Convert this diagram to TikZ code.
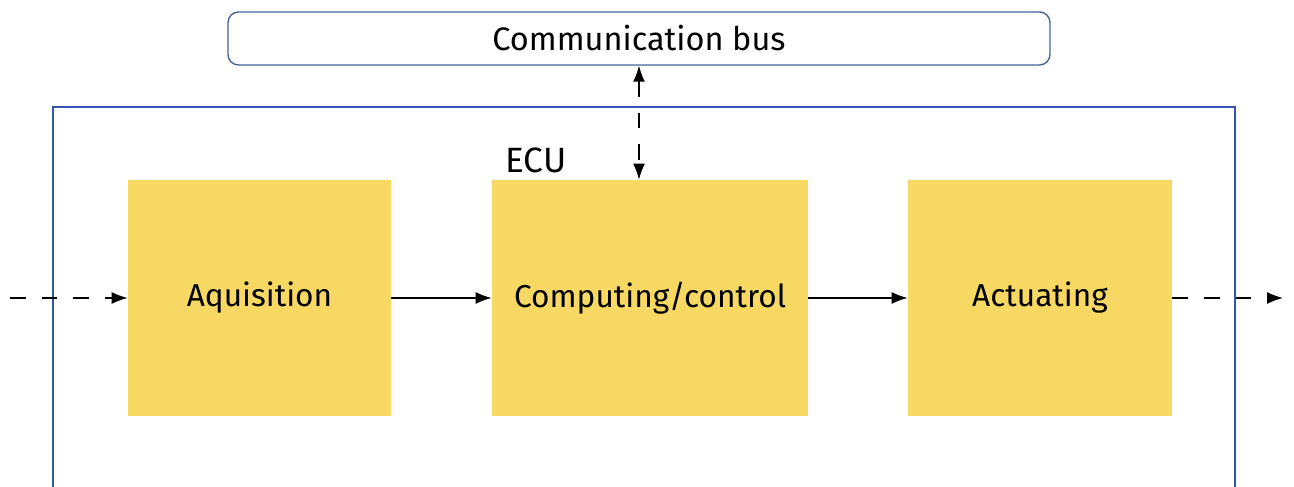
\documentclass[tikz,border=0pt]{standalone}
\usepackage{fontspec}
\setmainfont{Fira Sans}
\usetikzlibrary{arrows.meta}
\definecolor{boxyellow}{RGB}{246,216,98}
\definecolor{busblue}{RGB}{70,100,150}
\definecolor{ecublue}{RGB}{50,85,175}
\begin{document}
\begin{tikzpicture}[
  block/.style={fill=boxyellow,minimum height=4.72cm,inner sep=0pt,font=\fontsize{18}{21}\selectfont},
  flow/.style={-{Latex[length=3.2mm,width=2.4mm]},thick},
  dashflow/.style={flow,dash pattern=on 9pt off 9pt}]
\useasboundingbox (0,0) rectangle (25.88,-9.74);
% bus on top
\node [draw=busblue,thick,rounded corners=6pt,minimum width=16.44cm,minimum height=1.06cm,font=\fontsize{18.5}{21}\selectfont] (bus) at (12.78,-0.77) {Communication bus};
% ECU frame, open at the bottom
\draw [ecublue,thick] (1.06,-9.74) -- (1.06,-2.14) -- (24.7,-2.14) -- (24.7,-9.74);
\node [anchor=west,inner sep=0pt,font=\fontsize{20}{23}\selectfont] (ecu) at (10.1,-3.2) {ECU};
% the three stages
\node [block,minimum width=5.26cm] (acq) at (5.19,-5.96) {Aquisition};
\node [block,minimum width=6.32cm] (comp) at (13.0,-5.96) {Computing/control};
\node [block,minimum width=5.28cm] (act) at (20.8,-5.96) {Actuating};
\coordinate (in) at (0.2,-5.96);
\coordinate (out) at (25.66,-5.96);
\draw [dashflow] (in) -- (acq);
\draw [flow] (acq) -- (comp);
\draw [flow] (comp) -- (act);
\draw [dashflow] (act) -- (out);
\draw [dashflow,{Latex[length=3.2mm,width=2.4mm]}-{Latex[length=3.2mm,width=2.4mm]}] (bus.south) -- (bus.south |- comp.north);
\end{tikzpicture}
\end{document}
